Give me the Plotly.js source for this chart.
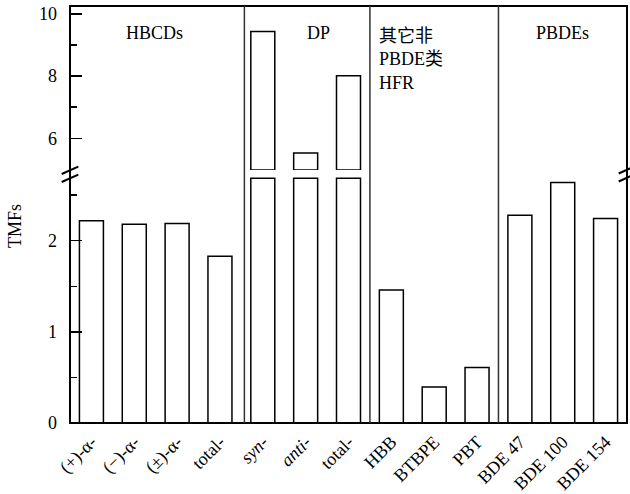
<!DOCTYPE html>
<html>
<head>
<meta charset="utf-8">
<script src="https://cdn.plot.ly/plotly-3.0.1.min.js"></script>
<style>html,body{margin:0;padding:0;background:#fff;}#chart{width:630px;height:494px;}</style>
</head>
<body>
<div id="chart"></div>
<script>
// ---- data ----
const categories = ['(+)-α-', '(−)-α-', '(±)-α-', 'total-', '<i>syn</i>-', '<i>anti</i>-', 'total-',
                    'HBB', 'BTBPE', 'PBT', 'BDE 47', 'BDE 100', 'BDE 154'];
const tmfValues = [2.22, 2.18, 2.19, 1.83, 9.44, 5.53, 8.01, 1.46, 0.395, 0.61, 2.28, 2.64, 2.245];
const groupNames = ['HBCDs', 'DP', '其它非<br>PBDE类<br>HFR', 'PBDEs'];
const lowerTicks = [0, 1, 2];
const lowerMinor = [0.5, 1.5, 2.5];
const upperTicks = [6, 8, 10];
const upperMinor = [7, 9];

// ---- axis break settings ----
const lowerRange = [0, 2.732];
const upperRange = [4.981, 10.257];
const lowerCap = 2.685;     // top of the lower segment of broken bars
const upperBase = 4.981;    // bottom of the upper segment of broken bars

// plot area in pixels
const L = 70, R = 627, T = 6, B = 423;
const px = x => (x - L) / (R - L);
const py = y => (B - y) / (B - T);

const FONT = 'Liberation Serif, "Times New Roman", "Noto Sans CJK SC", serif';
const idx = categories.map((_, i) => i);

const lowerTrace = {
  type: 'bar', x: idx, y: tmfValues.map(v => Math.min(v, lowerCap)),
  xaxis: 'x', yaxis: 'y', width: 0.56,
  marker: {color: '#ffffff', line: {color: '#000000', width: 1.5}},
  hoverinfo: 'skip', showlegend: false
};
const upIdx = idx.filter(i => tmfValues[i] > upperBase);
const upperTrace = {
  type: 'bar', x: upIdx, y: upIdx.map(i => tmfValues[i] - upperBase), base: upperBase,
  xaxis: 'x', yaxis: 'y2', width: 0.56,
  marker: {color: '#ffffff', line: {color: '#000000', width: 1.5}},
  hoverinfo: 'skip', showlegend: false
};

const shapes = [];
// frame
shapes.push({type: 'rect', xref: 'paper', yref: 'paper', x0: 0, x1: 1, y0: 0, y1: 1,
  line: {color: '#000', width: 2}, layer: 'above'});
// group separators
[3.57, 6.5, 9.5].forEach(s => shapes.push({type: 'line', xref: 'x', yref: 'paper', x0: s, x1: s, y0: 0, y1: 1,
  line: {color: '#333', width: 1.5}, layer: 'above'}));
// break marks
[[L, 170.3], [L, 178.3], [R, 169.8], [R, 177.8]].forEach(([cx, cy]) => {
  shapes.push({type: 'line', xref: 'paper', yref: 'paper',
    x0: px(cx - 8.3), y0: py(cy + 3.7), x1: px(cx + 8.3), y1: py(cy - 3.7),
    line: {color: '#000', width: 2}, layer: 'above'});
});

const annotations = [
  {text: groupNames[0], x: px(154), y: py(33), xanchor: 'center', yanchor: 'middle'},
  {text: groupNames[1], x: px(318), y: py(33), xanchor: 'center', yanchor: 'middle'},
  {text: groupNames[2], x: px(377), y: py(24), xanchor: 'left', yanchor: 'top', align: 'left'},
  {text: groupNames[3], x: px(562), y: py(33), xanchor: 'center', yanchor: 'middle'},
  {text: 'TMFs', x: px(15), y: py(226), xanchor: 'center', yanchor: 'middle', textangle: -90}
].map(a => Object.assign({xref: 'paper', yref: 'paper', showarrow: false,
  font: {family: FONT, size: 18, color: '#000'}}, a));

const layout = {
  width: 630, height: 494,
  margin: {l: L, r: 630 - R, t: T, b: 494 - B, pad: 0},
  paper_bgcolor: '#fff', plot_bgcolor: '#fff',
  font: {family: FONT, size: 18, color: '#000'},
  barmode: 'overlay',
  xaxis: {
    range: [-0.5, 12.5], tickmode: 'array', tickvals: idx, ticktext: categories,
    tickangle: -45, ticks: '', showgrid: false, zeroline: false, showline: false,
    ticklabelstandoff: 4,
    tickfont: {family: FONT, size: 18, color: '#000'}, anchor: 'y'
  },
  yaxis: {
    domain: [0, py(174)], range: lowerRange, tickmode: 'array', tickvals: lowerTicks,
    ticks: 'inside', ticklen: 12, tickwidth: 1.5, tickcolor: '#000',
    minor: {tickmode: 'array', tickvals: lowerMinor, ticks: 'inside', ticklen: 7, tickwidth: 1.5, tickcolor: '#000'},
    showgrid: false, zeroline: false, showline: false, ticklabelstandoff: 12,
    tickfont: {family: FONT, size: 18, color: '#000'}, anchor: 'x'
  },
  yaxis2: {
    domain: [py(170), 1], range: upperRange, tickmode: 'array', tickvals: upperTicks,
    ticks: 'inside', ticklen: 12, tickwidth: 1.5, tickcolor: '#000',
    minor: {tickmode: 'array', tickvals: upperMinor, ticks: 'inside', ticklen: 7, tickwidth: 1.5, tickcolor: '#000'},
    showgrid: false, zeroline: false, showline: false, ticklabelstandoff: 12,
    tickfont: {family: FONT, size: 18, color: '#000'}, anchor: 'x'
  },
  shapes: shapes,
  annotations: annotations
};

Plotly.newPlot('chart', [lowerTrace, upperTrace], layout, {displayModeBar: false, staticPlot: true});
</script>
</body>
</html>
